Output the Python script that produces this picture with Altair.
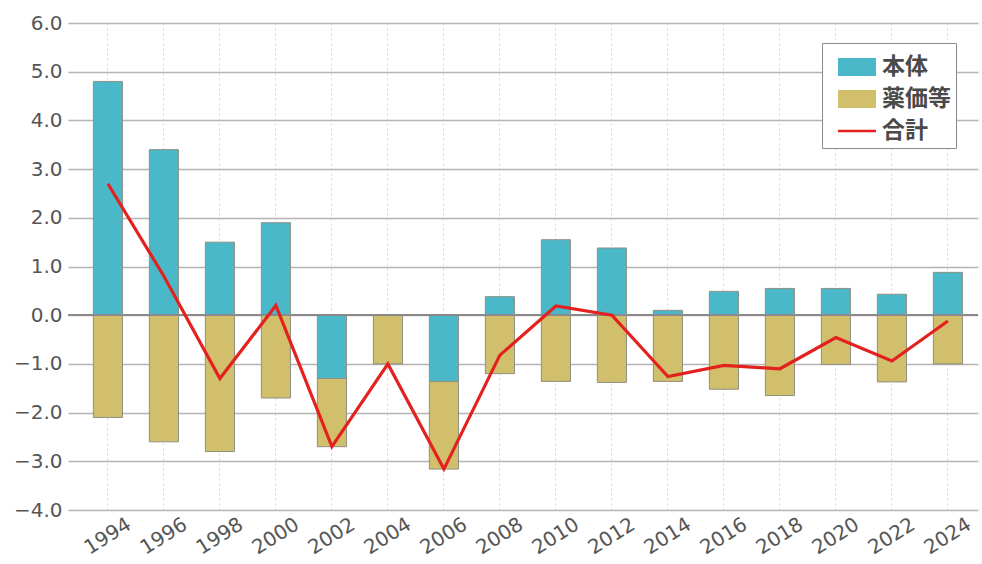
import altair as alt
import pandas as pd

years = ["1994", "1996", "1998", "2000", "2002", "2004", "2006", "2008",
         "2010", "2012", "2014", "2016", "2018", "2020", "2022", "2024"]
hontai = [4.8, 3.4, 1.5, 1.9, -1.3, 0.0, -1.36, 0.38,
          1.55, 1.38, 0.1, 0.49, 0.55, 0.55, 0.43, 0.88]
yakka = [-2.1, -2.6, -2.8, -1.7, -1.4, -1.0, -1.8, -1.2,
         -1.36, -1.38, -1.36, -1.52, -1.65, -1.01, -1.37, -1.0]
total = [2.7, 0.8, -1.3, 0.2, -2.7, -1.0, -3.16, -0.82,
         0.19, 0.0, -1.26, -1.03, -1.1, -0.46, -0.94, -0.12]
series_names = ["本体", "薬価等", "合計"]
series_colors = ["#4bb8c9", "#d2bf6c", "#e3211e"]
y_ticks = [-4, -3, -2, -1, 0, 1, 2, 3, 4, 5, 6]

bar_df = pd.DataFrame({
    "year": years * 2,
    "series": [series_names[0]] * len(years) + [series_names[1]] * len(years),
    "value": hontai + yakka,
    "ord": [0] * len(years) + [1] * len(years),
})
line_df = pd.DataFrame({"year": years, "series": series_names[2], "value": total})
legend_df = pd.concat([bar_df, line_df], ignore_index=True)

x_scale = alt.Scale(paddingInner=0.48, paddingOuter=0.365, align=0.62)
x_axis = alt.Axis(title=None, labelAngle=-32, labelAlign="center", labelBaseline="middle",
                  labelPadding=26, ticks=False, tickSize=0, domain=False,
                  grid=True, gridDash=[2, 3], gridColor="#d6d6d6", gridWidth=1,
                  labelFont="DejaVu Sans", labelFontSize=20, labelColor="#555555")
y_scale = alt.Scale(domain=[-4, 6], nice=False)
y_axis = alt.Axis(title=None, values=y_ticks, format=".1f", ticks=False, domain=False,
                  grid=True, gridColor="#b4b4b4", gridWidth=1.6,
                  labelFont="DejaVu Sans", labelFontSize=20, labelColor="#555555",
                  labelPadding=6)

color_scale = alt.Scale(domain=series_names, range=series_colors)
rect_path = "M-1,-0.47H1V0.47H-1Z"
line_path = "M-1,-0.07H1V0.07H-1Z"
shape_scale = alt.Scale(domain=series_names, range=[rect_path, rect_path, line_path])
legend = alt.Legend(title=None, orient="none", legendX=754, legendY=20,
                    symbolType="square",
                    symbolSize=1444, symbolStrokeWidth=0, symbolOpacity=1,
                    symbolOffset=11,
                    labelFont="Noto Sans CJK JP", labelFontSize=23, labelFontWeight="bold",
                    labelColor="#4a4a4a",
                    labelOffset=6, rowPadding=1, padding=5,
                    strokeColor="#8a8a8a", fillColor="white")

bars = alt.Chart(bar_df).mark_bar(stroke="#8f8f84", strokeWidth=1).encode(
    x=alt.X("year:N", sort=years, scale=x_scale, axis=x_axis),
    y=alt.Y("value:Q", stack="zero", scale=y_scale, axis=y_axis),
    color=alt.Color("series:N", scale=color_scale, legend=legend),
    order=alt.Order("ord:Q"),
)

zero = alt.Chart(line_df).mark_rule(color="#8a8a8a", strokeWidth=1.6).encode(
    y=alt.datum(0)
)

line = alt.Chart(line_df).mark_line(color="#e3211e", strokeWidth=3.2).encode(
    x=alt.X("year:N", sort=years),
    y=alt.Y("value:Q"),
)

legend_layer = alt.Chart(legend_df).mark_point(filled=True, opacity=0).encode(
    x=alt.X("year:N", sort=years),
    y=alt.Y("value:Q"),
    color=alt.Color("series:N", scale=color_scale, legend=legend),
    shape=alt.Shape("series:N", scale=shape_scale, legend=legend),
)

chart = alt.layer(bars, zero, line, legend_layer).properties(
    width=910, height=487,
    background="white",
    autosize=alt.AutoSizeParams(type="none"),
    padding={"left": 68, "top": 23, "right": 4, "bottom": 54},
).configure_view(stroke=None)

chart.save("out.html", embed_options={"renderer": "svg", "actions": False})
